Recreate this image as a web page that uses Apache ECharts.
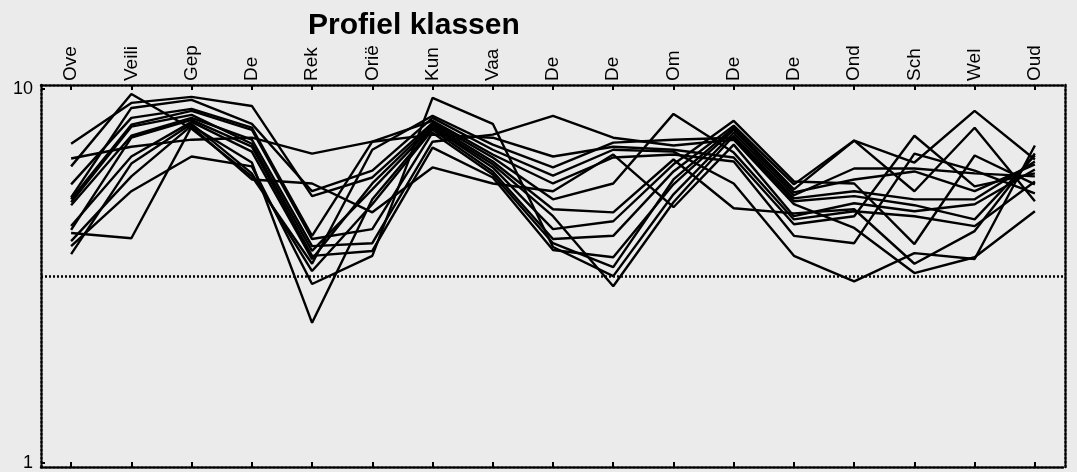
<!DOCTYPE html>
<html>
<head>
<meta charset="utf-8">
<script src="https://cdn.jsdelivr.net/npm/echarts@6/dist/echarts.min.js"></script>
<style>
  html, body { margin: 0; padding: 0; background: #ebebeb; }
  #chart { width: 1077px; height: 472px; }
</style>
</head>
<body>
<div id="chart"></div>
<script>
const categories = ['Ove','Veili','Gep','De','Rek','Orië','Kun','Vaa','De','De','Om','De','De','Ond','Sch','Wel','Oud'];
const yTickValues = [1, 10];
const referenceValue = 3.16;
const yMin = 0.976;
const yMax = 10.25;

const s1  = [7.14, 9.18, 9.53, 9.01, 5.17, 5.80, 8.12, 6.56, 5.07, 5.59, 8.58, 6.76, 4.48, 4.71, 4.57, 4.30, 5.66];
const s2  = [6.52, 7.01, 7.32, 7.41, 6.72, 7.23, 7.55, 7.41, 6.60, 7.01, 6.88, 6.56, 4.35, 4.57, 7.50, 5.49, 5.95];
const s3  = [6.21, 9.70, 7.83, 5.84, 3.41, 6.88, 8.48, 7.10, 6.17, 7.19, 7.32, 7.41, 5.01, 5.17, 4.89, 4.48, 6.64];
const s4  = [5.56, 8.37, 8.85, 7.88, 4.05, 7.23, 8.22, 6.68, 5.59, 6.56, 6.68, 6.40, 4.05, 3.87, 6.72, 6.05, 5.26];
const s5  = [5.13, 8.90, 9.35, 8.07, 5.33, 6.05, 8.37, 6.88, 5.87, 6.88, 6.80, 5.59, 3.58, 3.06, 3.64, 3.51, 7.06];
const s6  = [5.07, 8.03, 8.74, 7.78, 3.97, 4.22, 7.64, 5.91, 3.87, 3.34, 5.73, 7.88, 5.39, 7.28, 5.33, 7.88, 5.01];
const s7  = [4.98, 7.93, 8.53, 7.14, 3.69, 5.39, 7.93, 6.29, 4.57, 2.97, 4.98, 7.50, 5.10, 5.33, 5.07, 5.07, 6.40];
const s8  = [4.89, 7.50, 8.37, 7.32, 3.80, 3.87, 7.23, 7.55, 8.48, 7.41, 7.06, 7.32, 4.92, 4.25, 3.22, 3.55, 4.71];
const s9  = [4.30, 6.60, 8.17, 6.80, 3.51, 5.59, 8.03, 6.40, 4.77, 4.68, 6.48, 4.80, 4.65, 4.77, 3.41, 4.17, 6.72];
const s10 = [4.20, 7.41, 8.27, 7.01, 3.58, 3.69, 6.97, 5.80, 3.71, 3.55, 5.56, 7.78, 5.29, 5.73, 6.02, 5.33, 6.29];
const s11 = [4.12, 3.99, 7.93, 5.73, 5.59, 4.68, 6.17, 5.59, 5.33, 6.68, 4.83, 7.10, 4.57, 4.95, 4.71, 4.92, 6.09];
const s12 = [3.92, 5.84, 7.98, 6.36, 2.37, 5.07, 7.88, 6.17, 4.22, 4.43, 6.29, 8.22, 5.66, 5.59, 3.85, 6.64, 5.56];
const s13 = [3.80, 5.33, 6.60, 6.21, 3.01, 3.58, 9.47, 8.07, 3.78, 3.16, 5.23, 7.64, 5.20, 6.13, 6.13, 5.95, 5.84];
const s14 = [3.62, 6.32, 8.07, 5.95, 3.26, 4.92, 7.78, 6.02, 3.97, 4.05, 6.02, 7.98, 5.56, 7.28, 6.36, 8.74, 6.48];

const allSeries = [s1, s2, s3, s4, s5, s6, s7, s8, s9, s10, s11, s12, s13, s14];

const FONT = "'Liberation Sans', Arial, sans-serif";
const dotted = { color: '#000', width: 2.5, type: [2, 2] };

const series = allSeries.map((d, i) => {
  const s = {
    type: 'line',
    data: d,
    xAxisIndex: 0,
    yAxisIndex: 0,
    symbol: 'none',
    lineStyle: { color: '#000', width: 2.4 },
    silent: true,
    z: 3
  };
  if (i === 0) {
    s.markLine = {
      silent: true,
      symbol: 'none',
      label: { show: false },
      lineStyle: { color: '#000', width: 2.5, type: [2, 2] },
      data: [{ yAxis: referenceValue }]
    };
  }
  return s;
});

const chart = echarts.init(document.getElementById('chart'), null, { renderer: 'canvas' });
chart.setOption({
  animation: false,
  backgroundColor: '#ebebeb',
  title: {
    text: 'Profiel klassen',
    left: 308,
    top: 11,
    padding: 0,
    textStyle: { fontFamily: FONT, fontSize: 30, fontWeight: 'bold', color: '#000' }
  },
  grid: { left: 41, right: 12, top: 85, bottom: 3, containLabel: false },
  xAxis: [
    {
      type: 'category',
      position: 'top',
      data: categories,
      boundaryGap: true,
      axisLine: { show: true, lineStyle: dotted },
      axisTick: { show: true, inside: true, length: 5, alignWithLabel: true, interval: 0, lineStyle: { color: '#000', width: 2 } },
      axisLabel: { show: true, interval: 0, rotate: -90, margin: 4, color: '#000', fontFamily: FONT, fontSize: 19 },
      splitLine: { show: false }
    },
    {
      type: 'category',
      position: 'bottom',
      data: categories,
      boundaryGap: true,
      axisLine: { show: true, lineStyle: dotted },
      axisTick: { show: true, inside: true, length: 5, alignWithLabel: true, interval: 0, lineStyle: { color: '#000', width: 2 } },
      axisLabel: { show: false },
      splitLine: { show: false }
    }
  ],
  yAxis: [
    {
      type: 'log',
      logBase: 10,
      position: 'left',
      min: yMin,
      max: yMax,
      axisLine: { show: true, lineStyle: dotted },
      axisTick: { show: true, inside: true, length: 4, customValues: yTickValues, lineStyle: { color: '#000', width: 2 } },
      axisLabel: { show: true, customValues: yTickValues, margin: 8, color: '#000', fontFamily: FONT, fontSize: 18 },
      splitLine: { show: false }
    },
    {
      type: 'log',
      logBase: 10,
      position: 'right',
      min: yMin,
      max: yMax,
      axisLine: { show: true, lineStyle: dotted },
      axisTick: { show: false },
      axisLabel: { show: false },
      splitLine: { show: false }
    }
  ],
  series: series
});
</script>
</body>
</html>
